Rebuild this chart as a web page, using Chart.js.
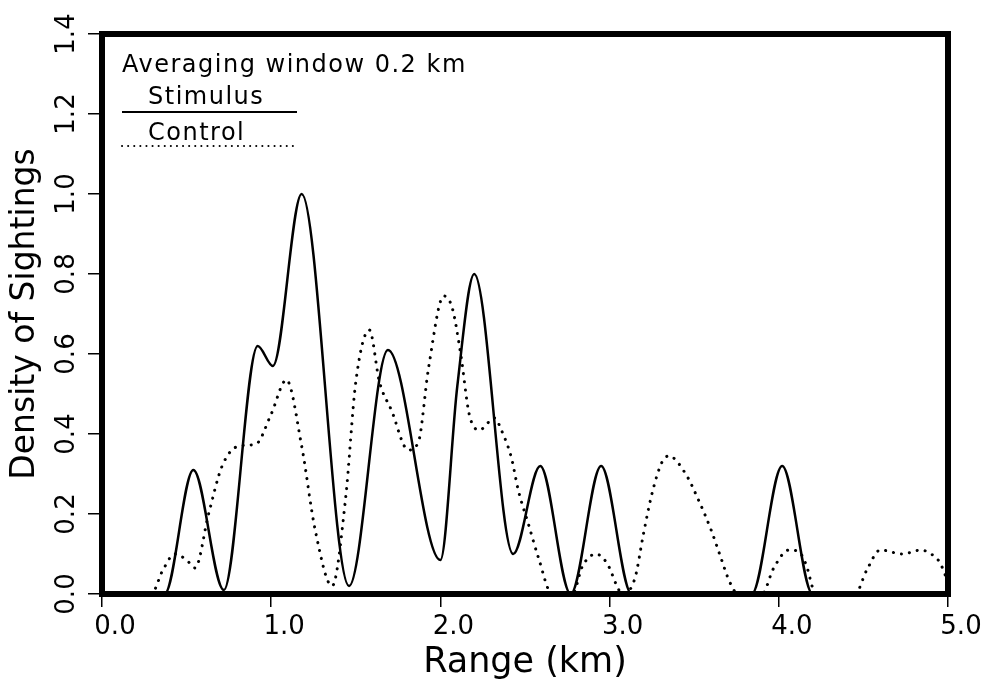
<!DOCTYPE html>
<html>
<head>
<meta charset="utf-8">
<script src="https://cdn.jsdelivr.net/npm/chart.js@4/dist/chart.umd.min.js"></script>
<style>
  html, body { margin: 0; padding: 0; background: #fff; }
  #wrap { width: 981px; height: 692px; }
</style>
</head>
<body>
<div id="wrap"><canvas id="densityChart" width="981" height="692"></canvas></div>
<script>
// range (km) and density
var stimX = [0, 0.37, 0.54, 0.72, 0.92, 1.01, 1.18, 1.46, 1.69, 2.00,
  2.10, 2.20, 2.43, 2.59, 2.77, 2.95, 3.13, 3.84, 4.02, 4.20,
  5.00];
var stimY = [0, 0, 0.31, 0.01, 0.62, 0.57, 1.00, 0.02, 0.61, 0.085,
  0.52, 0.80, 0.10, 0.32, 0, 0.32, 0, 0, 0.32, 0,
  0];

var ctrlX = [0, 0.29, 0.36, 0.43, 0.50, 0.55, 0.63, 0.71, 0.81, 0.91,
  1.00, 1.09, 1.18, 1.26, 1.36, 1.44, 1.50, 1.58, 1.64, 1.71,
  1.81, 1.87, 1.93, 2.02, 2.07, 2.12, 2.17, 2.23, 2.32, 2.36,
  2.42, 2.46, 2.52, 2.58, 2.66, 2.78, 2.84, 2.92, 2.98, 3.08,
  3.15, 3.20, 3.25, 3.31, 3.35, 3.45, 3.52, 3.60, 3.65, 3.71,
  3.76, 3.90, 3.97, 4.06, 4.12, 4.16, 4.22, 4.45, 4.52, 4.60,
  4.73, 4.84, 4.90, 4.95, 5.00];
var ctrlY = [0, 0, 0.06, 0.10, 0.085, 0.065, 0.20, 0.32, 0.37, 0.375,
  0.45, 0.535, 0.37, 0.16, 0.02, 0.24, 0.53, 0.66, 0.53, 0.46,
  0.36, 0.38, 0.565, 0.745, 0.715, 0.60, 0.45, 0.41, 0.44, 0.41,
  0.34, 0.26, 0.175, 0.09, 0, 0, 0.07, 0.10, 0.08, 0,
  0.04, 0.15, 0.25, 0.33, 0.345, 0.30, 0.24, 0.16, 0.10, 0.03,
  0, 0, 0.065, 0.11, 0.105, 0.075, 0, 0, 0.06, 0.11,
  0.10, 0.11, 0.10, 0.08, 0.03];

var xTicks = [0, 1, 2, 3, 4, 5];
var yTicks = [0, 0.2, 0.4, 0.6, 0.8, 1.0, 1.2, 1.4];
var seriesNames = ['Stimulus', 'Control'];
var noteText = 'Averaging window 0.2 km';

var FONT = '"DejaVu Sans", sans-serif';

function pairs(xs, ys){
  var out = [];
  for (var i = 0; i < xs.length; i++){
    out.push({x: xs[i], y: ys[i]});
  }
  return out;
}

// thick box, rotated y labels and the little key in the corner
var framePlugin = {
  id: 'frame',
  afterDraw: function(chart){
    var ctx = chart.ctx;
    var a = chart.chartArea;
    ctx.save();
    ctx.strokeStyle = '#000';
    ctx.lineWidth = 6;
    ctx.strokeRect(a.left, a.top, a.right - a.left, a.bottom - a.top);

    // y tick labels, reading bottom to top
    var ys = chart.scales.y;
    ctx.fillStyle = '#000';
    ctx.font = '26px ' + FONT;
    ctx.textAlign = 'center';
    ctx.textBaseline = 'middle';
    ys.ticks.forEach(function(t){
      var py = ys.getPixelForValue(t.value);
      ctx.save();
      ctx.translate(67, py);
      ctx.rotate(-Math.PI / 2);
      ctx.fillText(t.value.toFixed(1), 0, 0);
      ctx.restore();
    });

    // key
    var lx = a.left + 20;
    ctx.textAlign = 'left';
    ctx.textBaseline = 'alphabetic';
    ctx.font = '24px ' + FONT;
    ctx.letterSpacing = '1.5px';
    ctx.fillText(noteText, lx, a.top + 38);
    ctx.fillText(seriesNames[0], lx + 26, a.top + 70);
    ctx.fillText(seriesNames[1], lx + 26, a.top + 106);

    ctx.lineWidth = 2;
    ctx.beginPath();
    ctx.moveTo(lx, a.top + 78);
    ctx.lineTo(lx + 175, a.top + 78);
    ctx.stroke();

    ctx.lineWidth = 2;
    ctx.lineCap = 'round';
    ctx.setLineDash([0.1, 6]);
    ctx.beginPath();
    ctx.moveTo(lx, a.top + 112);
    ctx.lineTo(lx + 175, a.top + 112);
    ctx.stroke();
    ctx.restore();
  }
};

var ctx = document.getElementById('densityChart').getContext('2d');
var chart = new Chart(ctx, {
  type: 'line',
  data: {
    datasets: [{
      label: seriesNames[0],
      data: pairs(stimX, stimY),
      borderColor: '#000',
      borderWidth: 2.5,
      pointRadius: 0,
      fill: false,
      cubicInterpolationMode: 'monotone'
    }, {
      label: seriesNames[1],
      data: pairs(ctrlX, ctrlY),
      borderColor: '#000',
      borderWidth: 3,
      borderDash: [0.1, 8],
      borderCapStyle: 'round',
      pointRadius: 0,
      fill: false,
      cubicInterpolationMode: 'monotone'
    }]
  },
  options: {
    responsive: false,
    animation: false,
    layout: { padding: { top: 34, right: 33, left: 0, bottom: 0 } },
    plugins: {
      legend: { display: false },
      tooltip: { enabled: false }
    },
    scales: {
      x: {
        type: 'linear',
        min: 0,
        max: 5,
        afterBuildTicks: function(s){ s.ticks = xTicks.map(function(v){ return {value: v}; }); },
        afterFit: function(s){ s.height = 98; },
        ticks: {
          color: '#000',
          font: { family: FONT, size: 26 },
          padding: 5,
          labelOffset: 13,
          maxRotation: 0,
          callback: function(v){ return v.toFixed(1); }
        },
        grid: { drawOnChartArea: false, drawTicks: true, tickLength: 13, color: '#000', lineWidth: 1.5 },
        border: { display: false },
        title: {
          display: true,
          text: 'Range (km)',
          color: '#000',
          font: { family: FONT, size: 35 },
          padding: { top: 0, bottom: 8 }
        }
      },
      y: {
        min: 0,
        max: 1.4,
        afterBuildTicks: function(s){ s.ticks = yTicks.map(function(v){ return {value: v}; }); },
        afterFit: function(s){ s.width = 102; },
        ticks: { display: false },
        grid: { drawOnChartArea: false, drawTicks: true, tickLength: 14, color: '#000', lineWidth: 1.5 },
        border: { display: false },
        title: {
          display: true,
          text: 'Density of Sightings',
          color: '#000',
          font: { family: FONT, size: 33 },
          padding: { top: 6, bottom: 0 }
        }
      }
    }
  },
  plugins: [framePlugin]
});
</script>
</body>
</html>
